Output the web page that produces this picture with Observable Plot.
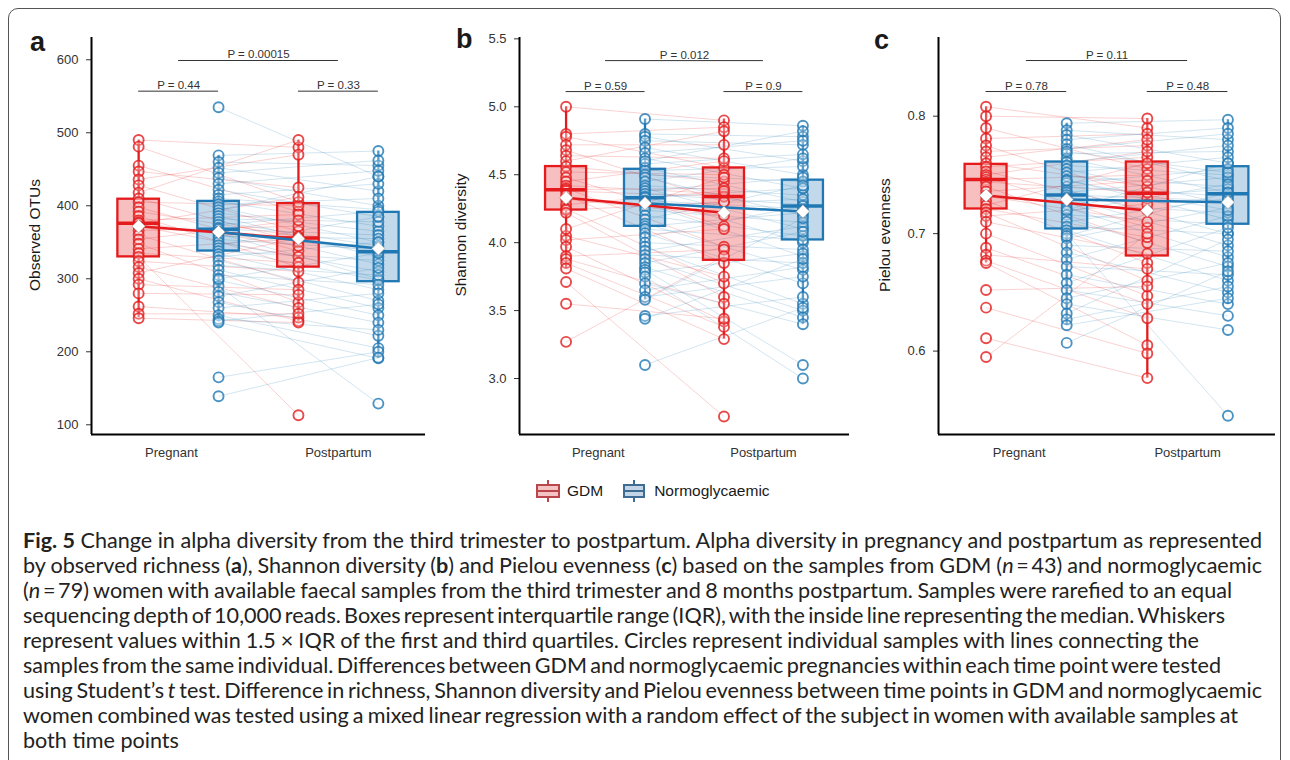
<!DOCTYPE html>
<html>
<head>
<meta charset="utf-8">
<script src="https://cdn.jsdelivr.net/npm/d3@7"></script>
<script src="https://cdn.jsdelivr.net/npm/@observablehq/plot@0.6"></script>
<style>
  html, body { margin: 0; padding: 0; background: #fff; }
  body { width: 1290px; height: 760px; position: relative; overflow: hidden; font-family: "Liberation Sans", Arial, sans-serif; color: #1a1a1a; }
  .frame { position: absolute; left: 8px; top: 8px; width: 1273px; height: 820px; border: 1px solid #555; border-radius: 10px; box-sizing: border-box; }
  .panel { position: absolute; top: 20px; }
  .letter { position: absolute; font-weight: bold; font-size: 27px; line-height: 1; font-family: "Liberation Sans", Arial, sans-serif; }
  .ylab { position: absolute; white-space: nowrap; font-size: 15.5px; transform: translate(-50%, -50%) rotate(-90deg); color: #1a1a1a; }
  .legend { position: absolute; left: 535px; top: 480px; display: flex; align-items: center; font-size: 15.5px; color: #1a1a1a; }
  .legend svg { display: block; }
  .caption { position: absolute; left: 23px; top: 528px; font-family: Lato, "Liberation Sans", sans-serif; font-size: 19px; line-height: 25px; color: #222; }
  .caption .ln { white-space: nowrap; height: 25px; }
  .caption .ln span { display: inline-block; }
</style>
</head>
<body>
<div class="frame"></div>
<div class="letter" style="left:30px;top:29px;">a</div>
<div class="letter" style="left:456px;top:26px;">b</div>
<div class="letter" style="left:874px;top:27px;">c</div>
<div class="ylab" style="left:35px;top:235px;">Observed OTUs</div>
<div class="ylab" style="left:461px;top:235px;">Shannon diversity</div>
<div class="ylab" style="left:885px;top:235px;">Pielou evenness</div>
<div class="panel" id="pa" style="left:20px;"></div>
<div class="panel" id="pb" style="left:440px;"></div>
<div class="panel" id="pc" style="left:860px;"></div>
<div class="legend">
  <svg width="26" height="22"><line x1="13" y1="0" x2="13" y2="22" stroke="#B8464A" stroke-width="2"/><rect x="2" y="5" width="22" height="12" fill="#F4C4C5" stroke="#B8464A" stroke-width="2"/><line x1="2" y1="11" x2="24" y2="11" stroke="#B8464A" stroke-width="2"/></svg>
  <span style="margin-left:6px;">GDM</span>
  <svg width="24" height="22" style="margin-left:19px;"><line x1="12" y1="0" x2="12" y2="22" stroke="#3F6C92" stroke-width="2"/><rect x="2" y="5" width="20" height="12" fill="#C3D5E6" stroke="#3F6C92" stroke-width="2"/><line x1="2" y1="11" x2="22" y2="11" stroke="#3F6C92" stroke-width="2"/></svg>
  <span style="margin-left:8px;">Normoglycaemic</span>
</div>
<div class="caption" id="caption">
  <div class="ln"><span><b>Fig. 5</b> Change in alpha diversity from the third trimester to postpartum. Alpha diversity in pregnancy and postpartum as represented</span></div>
  <div class="ln"><span>by observed richness (<b>a</b>), Shannon diversity (<b>b</b>) and Pielou evenness (<b>c</b>) based on the samples from GDM (<i>n</i>&#8201;=&#8201;43) and normoglycaemic</span></div>
  <div class="ln"><span>(<i>n</i>&#8201;=&#8201;79) women with available faecal samples from the third trimester and 8 months postpartum. Samples were rarefied to an equal</span></div>
  <div class="ln"><span>sequencing depth of 10,000 reads. Boxes represent interquartile range (IQR), with the inside line representing the median. Whiskers</span></div>
  <div class="ln"><span>represent values within 1.5 × IQR of the first and third quartiles. Circles represent individual samples with lines connecting the</span></div>
  <div class="ln"><span>samples from the same individual. Differences between GDM and normoglycaemic pregnancies within each time point were tested</span></div>
  <div class="ln"><span>using Student’s <i>t</i> test. Difference in richness, Shannon diversity and Pielou evenness between time points in GDM and normoglycaemic</span></div>
  <div class="ln"><span>women combined was tested using a mixed linear regression with a random effect of the subject in women with available samples at</span></div>
  <div class="ln"><span>both time points</span></div>
</div>
<script>
// ---------------- categories ----------------
const groups = ["GDM", "Normoglycaemic"];
const times = ["Pregnant", "Postpartum"];
const groupColors = ["#E41A1C", "#1F78B4"];
const timeTickLabels = ["Pregnant\u00a0\u00a0\u00a0\u00a0", "Postpartum"];

// ---------------- Panel a: Observed OTUs (paired by index) ----------------
const otuGdmPregnant   = [490, 481, 455, 447, 436, 428, 418, 410, 405, 398, 392, 386, 380, 377, 376, 372, 366, 360, 354, 348, 341, 335, 330, 324, 316, 308, 300, 292, 280, 262, 252, 246];
const otuGdmPostpartum = [480, 405, 392, 425, 470, 365, 490, 350, 400, 338, 358, 316, 388, 345, 412, 330, 372, 295, 380, 268, 355, 322, 113, 310, 260, 356, 242, 285, 278, 247, 252, 240];
const otuNormoPregnant   = [535, 469, 460, 452, 445, 438, 430, 422, 415, 410, 406, 402, 398, 394, 390, 386, 382, 378, 374, 370, 368, 365, 362, 358, 354, 350, 346, 342, 338, 334, 330, 325, 318, 312, 305, 298, 290, 282, 276, 268, 260, 250, 245, 242, 240, 165, 139, 300];
const otuNormoPostpartum = [440, 475, 455, 420, 462, 400, 448, 385, 430, 395, 372, 410, 350, 440, 365, 330, 378, 345, 392, 320, 360, 337, 300, 355, 340, 310, 385, 298, 325, 285, 350, 270, 305, 260, 292, 250, 129, 240, 315, 222, 280, 205, 230, 265, 191, 200, 192, 335];
const otuBoxes = [
  {group: "GDM", time: "Pregnant", lo: 247, q1: 330, med: 376, q3: 409, hi: 490, mean: 372},
  {group: "Normoglycaemic", time: "Pregnant", lo: 241, q1: 338, med: 368, q3: 406, hi: 469, mean: 364},
  {group: "GDM", time: "Postpartum", lo: 241, q1: 316, med: 356, q3: 403, hi: 490, mean: 355},
  {group: "Normoglycaemic", time: "Postpartum", lo: 191, q1: 296, med: 337, q3: 391, hi: 475, mean: 341.5}
];
const otuPValues = ["0.44", "0.33", "0.00015"];
const otuBracketY = [557, 557, 599];
const otuTicks = [100, 200, 300, 400, 500, 600];

// ---------------- Panel b: Shannon diversity ----------------
const shaGdmPregnant   = [5.00, 4.80, 4.78, 4.72, 4.68, 4.64, 4.60, 4.56, 4.52, 4.48, 4.45, 4.42, 4.40, 4.39, 4.38, 4.35, 4.32, 4.28, 4.25, 4.24, 4.22, 4.05, 4.02, 3.97, 3.90, 3.88, 3.85, 3.81, 3.71, 3.55, 3.27, 4.10];
const shaGdmPostpartum = [4.90, 4.85, 4.55, 4.72, 4.30, 4.62, 4.82, 4.45, 4.50, 4.12, 4.60, 4.36, 3.97, 4.40, 4.34, 3.85, 4.20, 4.38, 3.70, 4.30, 3.60, 3.75, 4.10, 3.42, 3.95, 3.55, 3.38, 3.29, 2.72, 3.44, 3.90, 4.48];
const shaNormoPregnant   = [4.91, 4.80, 4.78, 4.75, 4.70, 4.66, 4.62, 4.58, 4.55, 4.53, 4.50, 4.48, 4.45, 4.42, 4.40, 4.38, 4.36, 4.34, 4.33, 4.31, 4.29, 4.27, 4.24, 4.20, 4.17, 4.14, 4.12, 4.10, 4.07, 4.04, 4.00, 3.97, 3.94, 3.91, 3.88, 3.85, 3.82, 3.80, 3.78, 3.75, 3.70, 3.65, 3.60, 3.58, 3.46, 3.44, 3.10, 4.60];
const shaNormoPostpartum = [4.86, 4.78, 4.60, 4.72, 4.50, 4.75, 4.40, 4.65, 4.30, 4.56, 4.45, 4.20, 4.62, 4.35, 4.10, 4.48, 4.28, 4.00, 4.40, 4.25, 3.90, 4.32, 4.15, 4.05, 4.42, 3.80, 4.22, 4.02, 3.70, 4.27, 3.95, 3.55, 4.12, 3.85, 3.50, 4.08, 3.45, 3.10, 3.92, 3.00, 3.40, 3.82, 3.75, 4.18, 3.60, 3.88, 3.52, 4.82];
const shaBoxes = [
  {group: "GDM", time: "Pregnant", lo: 3.81, q1: 4.24, med: 4.39, q3: 4.56, hi: 5.00, mean: 4.33},
  {group: "Normoglycaemic", time: "Pregnant", lo: 3.58, q1: 4.12, med: 4.33, q3: 4.54, hi: 4.91, mean: 4.29},
  {group: "GDM", time: "Postpartum", lo: 3.29, q1: 3.87, med: 4.34, q3: 4.55, hi: 4.91, mean: 4.22},
  {group: "Normoglycaemic", time: "Postpartum", lo: 3.40, q1: 4.02, med: 4.27, q3: 4.46, hi: 4.86, mean: 4.23}
];
const shaPValues = ["0.59", "0.9", "0.012"];
const shaBracketY = [5.112, 5.112, 5.34];
const shaTicks = [3.0, 3.5, 4.0, 4.5, 5.0, 5.5];

// ---------------- Panel c: Pielou evenness ----------------
const pieGdmPregnant   = [0.808, 0.800, 0.790, 0.781, 0.775, 0.770, 0.765, 0.760, 0.757, 0.753, 0.750, 0.748, 0.746, 0.744, 0.740, 0.736, 0.732, 0.728, 0.724, 0.721, 0.718, 0.715, 0.710, 0.700, 0.688, 0.682, 0.677, 0.675, 0.652, 0.637, 0.611, 0.595];
const pieGdmPostpartum = [0.790, 0.798, 0.755, 0.785, 0.730, 0.775, 0.780, 0.740, 0.765, 0.720, 0.770, 0.705, 0.750, 0.735, 0.692, 0.745, 0.710, 0.675, 0.760, 0.697, 0.660, 0.725, 0.683, 0.647, 0.640, 0.670, 0.628, 0.605, 0.655, 0.598, 0.577, 0.700];
const pieNormoPregnant   = [0.794, 0.788, 0.784, 0.780, 0.776, 0.772, 0.768, 0.764, 0.761, 0.758, 0.755, 0.752, 0.749, 0.746, 0.743, 0.740, 0.737, 0.735, 0.733, 0.731, 0.728, 0.725, 0.722, 0.719, 0.716, 0.713, 0.710, 0.706, 0.703, 0.700, 0.696, 0.690, 0.684, 0.678, 0.672, 0.665, 0.658, 0.652, 0.645, 0.640, 0.632, 0.627, 0.622, 0.607, 0.770, 0.745, 0.720, 0.698];
const pieNormoPostpartum = [0.797, 0.780, 0.760, 0.790, 0.745, 0.785, 0.770, 0.735, 0.775, 0.750, 0.725, 0.765, 0.740, 0.712, 0.755, 0.732, 0.700, 0.748, 0.728, 0.690, 0.738, 0.718, 0.680, 0.742, 0.708, 0.672, 0.730, 0.700, 0.660, 0.545, 0.722, 0.685, 0.650, 0.715, 0.665, 0.640, 0.705, 0.630, 0.675, 0.618, 0.695, 0.655, 0.645, 0.668, 0.752, 0.720, 0.760, 0.735];
const pieBoxes = [
  {group: "GDM", time: "Pregnant", lo: 0.675, q1: 0.721, med: 0.746, q3: 0.759, hi: 0.808, mean: 0.7325},
  {group: "Normoglycaemic", time: "Pregnant", lo: 0.622, q1: 0.704, med: 0.733, q3: 0.761, hi: 0.794, mean: 0.729},
  {group: "GDM", time: "Postpartum", lo: 0.577, q1: 0.681, med: 0.7345, q3: 0.761, hi: 0.798, mean: 0.7197},
  {group: "Normoglycaemic", time: "Postpartum", lo: 0.640, q1: 0.708, med: 0.734, q3: 0.757, hi: 0.797, mean: 0.7268}
];
const piePValues = ["0.78", "0.48", "0.11"];
const pieBracketY = [0.821, 0.821, 0.8474];
const pieTicks = [0.6, 0.7, 0.8];

// ---------------- helpers ----------------
const timeIndex = t => times.indexOf(t) + 1;            // 1, 2
const dodge = g => (g === "GDM" ? -0.25 : 0.25);        // ggplot-like dodge
const pos = (g, t) => timeIndex(t) + dodge(g);
const halfBox = 0.13;
const xDomain = [0.455, 2.545];

function makePanel({gp, gpp, np, npp, boxes, pvals, bry, yDomain, ticks, fmt, width, marginLeft, marginRight}) {
  const points = [];
  const links = [];
  [[ "GDM", gp, gpp ], [ "Normoglycaemic", np, npp ]].forEach(([g, pre, post]) => {
    pre.forEach((v, i) => {
      points.push({group: g, time: "Pregnant", value: v});
      points.push({group: g, time: "Postpartum", value: post[i]});
      links.push({group: g, v1: v, v2: post[i]});
    });
  });
  const brackets = [
    {a: pos("GDM", "Pregnant"), b: pos("Normoglycaemic", "Pregnant"), y: bry[0], p: pvals[0]},
    {a: pos("GDM", "Postpartum"), b: pos("Normoglycaemic", "Postpartum"), y: bry[1], p: pvals[1]},
    {a: timeIndex("Pregnant"), b: timeIndex("Postpartum"), y: bry[2], p: pvals[2]}
  ];
  return Plot.plot({
    width, height: 450,
    marginTop: 17, marginBottom: 36, marginLeft, marginRight,
    style: {fontFamily: "'Liberation Sans', Arial, sans-serif", fontSize: "13px", color: "#333", background: "transparent", overflow: "visible"},
    x: {domain: xDomain, ticks: [1, 2], tickFormat: d => timeTickLabels[d - 1], tickSize: 0, tickPadding: 13, label: null},
    y: {domain: yDomain, ticks, tickFormat: fmt, tickSize: 5, tickPadding: 8, label: null},
    color: {domain: groups, range: groupColors},
    marks: [
      Plot.link(links, {x1: d => pos(d.group, "Pregnant"), x2: d => pos(d.group, "Postpartum"), y1: "v1", y2: "v2", stroke: "group", strokeOpacity: 0.22, strokeWidth: 0.9}),
      Plot.rect(boxes, {x1: d => pos(d.group, d.time) - halfBox, x2: d => pos(d.group, d.time) + halfBox, y1: "q1", y2: "q3", fill: "group", fillOpacity: 0.28, stroke: "group", strokeWidth: 2.3}),
      Plot.ruleX(boxes, {x: d => pos(d.group, d.time), y1: "lo", y2: "q1", stroke: "group", strokeWidth: 2.3}),
      Plot.ruleX(boxes, {x: d => pos(d.group, d.time), y1: "q3", y2: "hi", stroke: "group", strokeWidth: 2.3}),
      Plot.dot(points, {x: d => pos(d.group, d.time), y: "value", r: 5, stroke: "group", strokeWidth: 1.9, strokeOpacity: 0.8, fill: "white", fillOpacity: 0.25}),
      Plot.ruleY(boxes, {y: "med", x1: d => pos(d.group, d.time) - halfBox, x2: d => pos(d.group, d.time) + halfBox, stroke: "group", strokeWidth: 3.5}),
      Plot.line(boxes, {x: d => pos(d.group, d.time), y: "mean", z: "group", stroke: "group", strokeWidth: 2.5}),
      Plot.dot(boxes, {x: d => pos(d.group, d.time), y: "mean", symbol: "diamond2", r: 5.9, fill: "white", stroke: "#999", strokeWidth: 0.6}),
      Plot.ruleY(brackets, {y: "y", x1: "a", x2: "b", stroke: "#333", strokeWidth: 1}),
      Plot.text(brackets, {x: d => (d.a + d.b) / 2, y: "y", text: d => "P = " + d.p, lineAnchor: "bottom", dy: -2, fill: "#333", fontSize: 11.5}),
      Plot.ruleX([xDomain[0]], {stroke: "#000", strokeWidth: 2}),
      Plot.ruleY([yDomain[0]], {stroke: "#000", strokeWidth: 2})
    ]
  });
}

document.getElementById("pa").appendChild(makePanel({
  gp: otuGdmPregnant, gpp: otuGdmPostpartum, np: otuNormoPregnant, npp: otuNormoPostpartum,
  boxes: otuBoxes, pvals: otuPValues, bry: otuBracketY,
  yDomain: [86.7, 630.5], ticks: otuTicks, fmt: d3.format("d"),
  width: 420, marginLeft: 71, marginRight: 15
}));
document.getElementById("pb").appendChild(makePanel({
  gp: shaGdmPregnant, gpp: shaGdmPostpartum, np: shaNormoPregnant, npp: shaNormoPostpartum,
  boxes: shaBoxes, pvals: shaPValues, bry: shaBracketY,
  yDomain: [2.588, 5.51], ticks: shaTicks, fmt: d3.format(".1f"),
  width: 420, marginLeft: 79, marginRight: 11
}));
document.getElementById("pc").appendChild(makePanel({
  gp: pieGdmPregnant, gpp: pieGdmPostpartum, np: pieNormoPregnant, npp: pieNormoPostpartum,
  boxes: pieBoxes, pvals: piePValues, bry: pieBracketY,
  yDomain: [0.529, 0.867], ticks: pieTicks, fmt: d3.format(".1f"),
  width: 422, marginLeft: 78, marginRight: 7
}));

// caption typesetting: size from the first line, then per-line word spacing so that
// each line ends where it ends in the reference (line breaks kept as in the original)
(function fitCaption() {
  const lineRightEdges = [1262, 1262, 1232, 1225, 1199, 1221, 1262, 1238, null];
  const cap = document.getElementById("caption");
  const spans = [...cap.querySelectorAll(".ln span")];
  const left = cap.getBoundingClientRect().left;
  const w0 = spans[0].getBoundingClientRect().width;
  const base = parseFloat(getComputedStyle(cap).fontSize);
  cap.style.fontSize = (base * (lineRightEdges[0] - left) / w0).toFixed(2) + "px";
  spans.forEach((s, i) => {
    const target = lineRightEdges[i];
    if (target == null) return;
    const w = s.getBoundingClientRect().width;
    const gaps = (s.textContent.match(/ /g) || []).length;
    if (gaps > 0) s.style.wordSpacing = ((target - left - w) / gaps).toFixed(3) + "px";
  });
})();
</script>
</body>
</html>
